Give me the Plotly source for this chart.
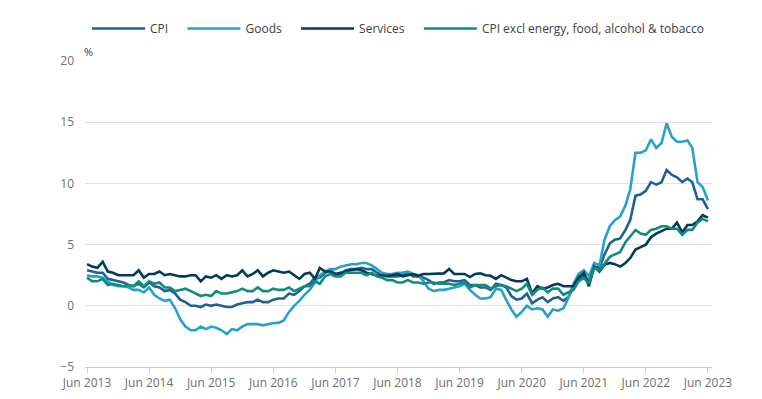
import pandas as pd
import plotly.graph_objects as go

months = pd.date_range("2013-06-01", "2023-06-01", freq="MS")

cpi = [2.9, 2.8, 2.7, 2.7, 2.2, 2.1, 2.0,
       1.9, 1.7, 1.6, 1.8, 1.5, 1.9, 1.6, 1.5, 1.2, 1.3, 1.0, 0.5,
       0.3, 0.0, 0.0, -0.1, 0.1, 0.0, 0.1, 0.0, -0.1, -0.1, 0.1, 0.2,
       0.3, 0.3, 0.5, 0.3, 0.3, 0.5, 0.6, 0.6, 1.0, 0.9, 1.2, 1.6,
       1.8, 2.3, 2.3, 2.7, 2.9, 2.6, 2.6, 2.9, 3.0, 3.0, 3.1, 3.0,
       3.0, 2.7, 2.5, 2.4, 2.4, 2.4, 2.5, 2.7, 2.4, 2.4, 2.3, 2.1,
       1.8, 1.9, 1.9, 2.1, 2.0, 2.0, 2.1, 1.7, 1.7, 1.5, 1.5, 1.3,
       1.8, 1.7, 1.5, 0.8, 0.5, 0.6, 1.0, 0.2, 0.5, 0.7, 0.3, 0.6,
       0.7, 0.4, 0.7, 1.5, 2.1, 2.5, 2.0, 3.2, 3.1, 4.2, 5.1, 5.4,
       5.5, 6.2, 7.0, 9.0, 9.1, 9.4, 10.1, 9.9, 10.1, 11.1, 10.7, 10.5,
       10.1, 10.4, 10.1, 8.7, 8.7, 7.9]

goods = [2.5, 2.4, 2.4, 2.3, 2.0, 1.7, 1.6,
         1.6, 1.5, 1.3, 1.3, 1.1, 1.5, 0.9, 0.6, 0.4, 0.5, -0.2, -1.1,
         -1.7, -2.0, -2.0, -1.7, -1.9, -1.7, -1.8, -2.0, -2.3, -1.9, -2.0, -1.7,
         -1.5, -1.5, -1.5, -1.6, -1.5, -1.4, -1.4, -1.2, -0.5, 0.0, 0.4, 0.9,
         1.3, 1.9, 2.5, 2.8, 3.0, 3.0, 3.2, 3.3, 3.4, 3.4, 3.5, 3.5,
         3.3, 3.0, 2.7, 2.6, 2.6, 2.7, 2.7, 2.8, 2.6, 2.5, 2.0, 1.4,
         1.2, 1.3, 1.3, 1.4, 1.5, 1.6, 1.8, 1.3, 0.9, 0.6, 0.6, 0.7,
         1.4, 1.3, 0.5, -0.3, -0.9, -0.5, 0.0, -0.3, -0.2, -0.3, -0.9, -0.3,
         -0.4, -0.2, 0.6, 1.8, 2.6, 2.9, 2.4, 3.5, 3.3, 5.4, 6.5, 7.0,
         7.3, 8.2, 9.5, 12.5, 12.5, 12.7, 13.6, 12.9, 13.3, 14.9, 13.8, 13.4,
         13.4, 13.5, 12.9, 10.1, 9.7, 8.6]

services = [3.4, 3.2, 3.1, 3.6, 2.8, 2.7, 2.5,
            2.5, 2.5, 2.5, 2.9, 2.3, 2.6, 2.6, 2.8, 2.5, 2.6, 2.5, 2.4,
            2.4, 2.5, 2.5, 2.0, 2.4, 2.3, 2.5, 2.2, 2.5, 2.4, 2.5, 2.9,
            2.4, 2.6, 2.9, 2.4, 2.7, 2.9, 2.8, 2.7, 2.8, 2.5, 2.2, 2.6,
            2.7, 2.2, 3.1, 2.8, 2.8, 2.6, 2.7, 2.8, 2.9, 3.0, 2.9, 2.7,
            2.6, 2.45, 2.5, 2.45, 2.5, 2.6, 2.4, 2.5, 2.6, 2.45, 2.6, 2.6,
            2.6, 2.6, 2.65, 3.0, 2.6, 2.6, 2.6, 2.35, 2.6, 2.65, 2.5, 2.45,
            2.2, 2.5, 2.3, 2.1, 2.0, 2.0, 2.2, 1.0, 1.6, 1.4, 1.5, 1.7,
            1.8, 1.6, 1.6, 1.6, 2.3, 2.7, 1.6, 3.2, 2.8, 3.35, 3.5, 3.4,
            3.2, 3.5, 3.9, 4.6, 4.8, 5.0, 5.6, 5.9, 6.1, 6.3, 6.3, 6.8,
            6.0, 6.6, 6.6, 6.9, 7.4, 7.2]

core = [2.3, 2.0, 2.0, 2.2, 1.7, 1.8, 1.7,
        1.6, 1.7, 1.6, 2.0, 1.6, 2.0, 1.8, 1.9, 1.5, 1.5, 1.2, 1.3,
        1.4, 1.2, 1.0, 0.8, 0.9, 0.8, 1.2, 1.0, 1.0, 1.1, 1.2, 1.4,
        1.2, 1.2, 1.5, 1.2, 1.2, 1.4, 1.3, 1.3, 1.5, 1.2, 1.4, 1.6,
        1.6, 2.0, 1.8, 2.4, 2.6, 2.4, 2.4, 2.7, 2.7, 2.7, 2.7, 2.5,
        2.7, 2.4, 2.3, 2.1, 2.1, 1.9, 1.9, 2.1, 1.9, 1.9, 1.8, 1.9,
        1.9, 1.8, 1.8, 1.8, 1.7, 1.8, 1.9, 1.5, 1.7, 1.7, 1.7, 1.4,
        1.6, 1.7, 1.6, 1.4, 1.2, 1.4, 1.8, 0.9, 1.3, 1.5, 1.1, 1.4,
        1.4, 0.9, 1.1, 1.3, 2.0, 2.3, 1.8, 3.1, 2.9, 3.4, 4.0, 4.2,
        4.4, 5.2, 5.7, 6.2, 5.9, 5.8, 6.2, 6.3, 6.5, 6.5, 6.3, 6.3,
        5.8, 6.2, 6.2, 6.8, 7.1, 6.9]

series_names = ["CPI", "Goods", "Services", "CPI excl energy, food, alcohol & tobacco"]
series_values = [cpi, goods, services, core]
series_colors = ["#206095", "#27a0cc", "#003c57", "#118c7b"]

tick_years = list(range(2013, 2024))
tick_vals = [f"{y}-06-01" for y in tick_years]
tick_text = [f"Jun {y}" for y in tick_years]

fig = go.Figure()
for i, (name, vals, col) in enumerate(zip(series_names, series_values, series_colors)):
    label = name if i == len(series_names) - 1 else name + "\u00a0\u00a0\u00a0"
    fig.add_trace(go.Scatter(x=months, y=vals, name=label, mode="lines",
                             line=dict(color=col, width=2.6)))

W, H = 746, 383  # page body has an 8px margin
fig.update_layout(
    width=W, height=H,
    margin=dict(l=77, r=42, t=53, b=24, autoexpand=False),
    paper_bgcolor="white", plot_bgcolor="white",
    font=dict(family="Open Sans", size=12, color="#707070"),
    legend=dict(orientation="h", x=0.5, xanchor="center", y=1 - 20.5 / H, yref="container",
                yanchor="middle", font=dict(size=12, color="#414042"),
                itemwidth=53, traceorder="normal"),
    showlegend=True,
    annotations=[dict(text="%", xref="paper", yref="paper", x=0, y=1, xshift=-3, yshift=0,
                      xanchor="left", yanchor="bottom", showarrow=False,
                      font=dict(size=11, color="#414042"))],
)
fig.update_xaxes(range=["2013-05-20", "2023-06-25"], tickvals=tick_vals, ticktext=tick_text,
                 showgrid=False, showline=True, linecolor="#c6cede", linewidth=1,
                 ticks="outside", ticklen=5, tickcolor="#c6cede", zeroline=False)
fig.update_yaxes(range=[-5, 20], tickvals=[-5, 0, 5, 10, 15, 20], showgrid=True,
                 gridcolor="#e2e2e2", gridwidth=1, zeroline=False, showline=False,
                 ticklabelstandoff=10)

fig.write_html("out.html")
